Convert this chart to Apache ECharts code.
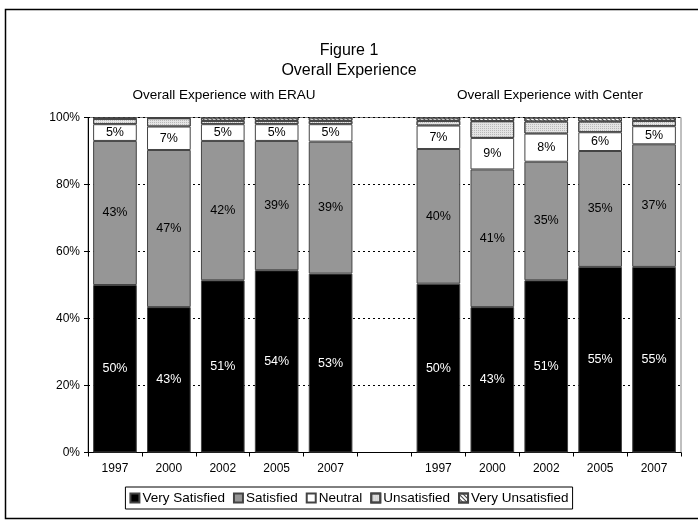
<!DOCTYPE html>
<html>
<head>
<meta charset="utf-8">
<script src="https://cdn.jsdelivr.net/npm/echarts@6/dist/echarts.min.js"></script>
<style>
html,body{margin:0;padding:0;background:#fff;}
#chart{width:698px;height:525px;}
</style>
</head>
<body>
<div id="chart"></div>
<script>
// Categories: ERAU years, a blank gap, then Center years
const categories = ['1997','2000','2002','2005','2007','','1997','2000','2002','2005','2007'];
const groupTitles = ['Overall Experience with ERAU','Overall Experience with Center'];
const seriesNames = ['Very Satisfied','Satisfied','Neutral','Unsatisfied','Very Unsatisfied'];
const yTicks = [0,20,40,60,80,100];

// Percent values (ERAU 5 values, gap, Center 5 values)
const verySatisfied   = [50.0, 43.4, 51.4, 54.4, 53.4, null, 50.4, 43.4, 51.4, 55.4, 55.4];
const satisfied       = [43.0, 46.9, 41.6, 38.6, 39.4, null, 40.2, 41.1, 35.4, 34.6, 36.6];
const neutral         = [5.0, 7.0, 5.0, 5.0, 5.2, null, 7.0, 9.4, 8.4, 5.6, 5.4];
const unsatisfied     = [1.6, 2.5, 1.0, 1.0, 1.0, null, 1.4, 5.0, 3.6, 3.2, 1.6];
const veryUnsatisfied = [0.4, 0.2, 1.0, 1.0, 1.0, null, 1.0, 1.1, 1.2, 1.2, 1.0];

const FONT = 'Liberation Sans, Arial, sans-serif';
const chart = echarts.init(document.getElementById('chart'));

function lab(color){
  return {show:true, position:'inside', color:color, fontSize:12.5, fontFamily:FONT,
    formatter: p => (p.value==null ? '' : Math.round(p.value)+'%')};
}
const border = {borderColor:'#444', borderWidth:1};

const option = {
  backgroundColor:'#fff',
  animation:false,
  title:{text:'Figure 1\nOverall Experience', left:'center', top:36,
    textStyle:{fontFamily:FONT, fontSize:16, fontWeight:'normal', color:'#000', lineHeight:20}},
  legend:{bottom:16, left:'center', icon:'rect', itemWidth:9, itemHeight:9, itemGap:8,
    borderColor:'#000', borderWidth:1, padding:[4,4,4,4],
    textStyle:{fontFamily:FONT, fontSize:13.5, color:'#000', padding:[0,0,0,-2]},
    data: seriesNames},
  grid:{left:88, right:17, top:117.5, bottom:72.5, show:true, borderColor:'#808080', borderWidth:1},
  xAxis:{type:'category', data:categories,
    axisLine:{lineStyle:{color:'#000'}},
    axisTick:{show:true, length:4, lineStyle:{color:'#000'}},
    axisLabel:{fontFamily:FONT, fontSize:12, color:'#000', margin:10}},
  yAxis:{type:'value', min:yTicks[0], max:yTicks[yTicks.length-1], interval:20,
    axisLine:{show:true, lineStyle:{color:'#000'}},
    axisTick:{show:true, length:4, lineStyle:{color:'#000'}},
    axisLabel:{fontFamily:FONT, fontSize:12, color:'#000', formatter:'{value}%', margin:8},
    splitLine:{lineStyle:{color:'#000', type:[2,3]}}},
  series:[
    {name:seriesNames[0], type:'bar', stack:'a', data:verySatisfied, barCategoryGap:'19%',
      itemStyle:Object.assign({color:'#000'}, border), label:lab('#fff')},
    {name:seriesNames[1], type:'bar', stack:'a', data:satisfied,
      itemStyle:Object.assign({color:'#969696'}, border), label:lab('#000')},
    {name:seriesNames[2], type:'bar', stack:'a', data:neutral,
      itemStyle:Object.assign({color:'#fff'}, border), label:lab('#000')},
    {name:seriesNames[3], type:'bar', stack:'a', data:unsatisfied,
      itemStyle:Object.assign({color:'#e4e4e4',
        decal:{symbol:'rect', symbolSize:1, dashArrayX:[1,1], dashArrayY:[1,1], color:'#b8b8b8'}}, border)},
    {name:seriesNames[4], type:'bar', stack:'a', data:veryUnsatisfied,
      itemStyle:Object.assign({color:'#fff',
        decal:{symbol:'rect', symbolSize:1, dashArrayX:[[1,0]], dashArrayY:[1,2], rotation:Math.PI/4, color:'#444'}}, border)}
  ],
  graphic:[
    {type:'rect', shape:{x:5.5, y:9.5, width:720, height:509}, style:{fill:'none', stroke:'#000', lineWidth:1.5}, silent:true},
    {type:'text', x:224, y:95, style:{text:groupTitles[0], font:'13.5px '+FONT, fill:'#000', align:'center', verticalAlign:'middle'}},
    {type:'text', x:550, y:95, style:{text:groupTitles[1], font:'13.5px '+FONT, fill:'#000', align:'center', verticalAlign:'middle'}}
  ]
};
chart.setOption(option);
</script>
</body>
</html>
